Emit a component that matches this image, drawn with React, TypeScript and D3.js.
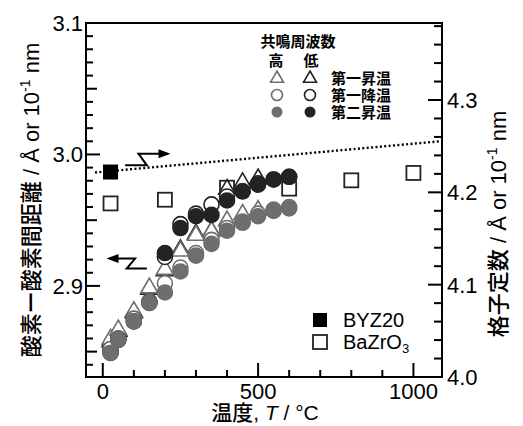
import * as d3 from 'd3'

// O-O distance (left axis), resonance frequency high (gray) / low (dark)
const tempsHeat1High = [25, 50, 100, 150, 200, 250, 300, 350, 400, 450, 500]
const heat1High = [2.860, 2.867, 2.881, 2.899, 2.913, 2.927, 2.939, 2.942, 2.950, 2.955, 2.958]
const tempsHeat1Low = [25, 50, 100, 150, 200, 250, 300, 350, 400, 450, 500]
const heat1Low = [2.858, 2.866, 2.880, 2.898, 2.912, 2.928, 2.940, 2.942, 2.974, 2.979, 2.982]

const tempsCool1High = [600, 550, 500, 450, 400, 350, 300, 250, 200, 150, 100, 50, 25]
const cool1High = [2.960, 2.958, 2.955, 2.949, 2.944, 2.935, 2.925, 2.914, 2.902, 2.888, 2.875, 2.860, 2.852]
const tempsCool1Low = [600, 550, 500, 450, 400, 350, 300, 250, 200, 150, 100, 50, 25]
const cool1Low = [2.983, 2.981, 2.978, 2.972, 2.968, 2.962, 2.955, 2.947, 2.922, 2.888, 2.875, 2.860, 2.852]

const tempsHeat2 = [25, 50, 100, 150, 200, 250, 300, 350, 400, 450, 500, 550, 600]
const heat2High = [2.849, 2.859, 2.873, 2.887, 2.895, 2.911, 2.923, 2.932, 2.942, 2.948, 2.953, 2.957, 2.959]
const heat2Low = [2.849, 2.859, 2.873, 2.887, 2.925, 2.944, 2.953, 2.954, 2.965, 2.972, 2.977, 2.981, 2.983]

// lattice constant (right axis)
const byzTemps = [25]
const byzLattice = [4.222]
const bzoTemps = [25, 200, 400, 600, 800, 1000]
const bzoLattice = [4.188, 4.192, 4.205, 4.204, 4.213, 4.221]
const fitTemps = [-25, 1092]
const fitLattice = [4.2215, 4.2555]

const xTicks = [0, 500, 1000]
const leftTicks = [2.9, 3.0, 3.1]
const rightTicks = [4.0, 4.1, 4.2, 4.3]
const legendRows = ['第一昇温', '第一降温', '第二昇温']

const GRAY = '#6e6e6e'
const DARK = '#232323'
const FONT = '"Liberation Sans", Arial, "Noto Sans CJK JP", sans-serif'
const CJK = '"Noto Sans CJK JP", "Liberation Sans", sans-serif'

const W = 523
const H = 426
const L = 86, R = 442, T = 23, B = 377

const x = d3.scaleLinear().domain([-54, 1092]).range([L, R])
const yL = d3.scaleLinear().domain([2.8307, 3.1]).range([B, T])
const yR = d3.scaleLinear().domain([4.0, 4.3834]).range([B, T])

const tri = (cx: number, cy: number, s: number) => {
  const h = s * 0.866
  return `M${cx},${cy - h * 0.62}L${cx + s / 2},${cy + h * 0.38}L${cx - s / 2},${cy + h * 0.38}Z`
}

function Triangles({ ts, vs, stroke }: { ts: number[]; vs: number[]; stroke: string }) {
  return (
    <g>
      {ts.map((t, i) => (
        <path key={i} d={tri(x(t), yL(vs[i]), 17)} fill="white" stroke={stroke} strokeWidth={1.6} />
      ))}
    </g>
  )
}

function Circles({ ts, vs, stroke, fill }: { ts: number[]; vs: number[]; stroke: string; fill: string }) {
  return (
    <g>
      {ts.map((t, i) => (
        <circle key={i} cx={x(t)} cy={yL(vs[i])} r={7.5} fill={fill} stroke={stroke} strokeWidth={1.6} />
      ))}
    </g>
  )
}

export default function App() {
  const minorX = d3.range(0, 1001, 100)
  const minorL = d3.range(2.84, 3.1001, 0.01)
  const minorR = d3.range(4.0, 4.3801, 0.02)

  const fitLine = d3.line<number>()
    .x((t) => x(t))
    .y((_, i) => yR(fitLattice[i]))(fitTemps)

  // zigzag arrows (in data units, left axis)
  const arrowRight = d3.line<[number, number]>()
    .x((d) => x(d[0])).y((d) => yL(d[1]))([[72, 2.9917], [142, 2.9917], [115, 3.0006], [205, 3.0006]])
  const arrowLeft = d3.line<[number, number]>()
    .x((d) => x(d[0])).y((d) => yL(d[1]))([[25, 2.9208], [104, 2.9208], [77, 2.9132], [142, 2.9132]])

  return (
    <svg width={W} height={H} style={{ position: 'absolute', left: 0, top: 0, background: 'white' }}>
      {/* frame */}
      <rect x={L} y={T} width={R - L} height={B - T} fill="none" stroke="black" strokeWidth={2} />

      {/* bottom ticks */}
      {minorX.map((t) => (
        <line key={t} x1={x(t)} x2={x(t)} y1={B} y2={B - (t % 500 === 0 ? 14 : 7)} stroke="black" strokeWidth={2} />
      ))}
      {xTicks.map((t) => (
        <text key={t} x={x(t)} y={399} textAnchor="middle" fontSize={22} fontFamily={FONT}>{t}</text>
      ))}

      {/* left ticks */}
      {minorL.map((v, i) => {
        const k = Math.round(v * 100)
        const len = k % 10 === 0 ? 14 : k % 5 === 0 ? 11 : 7
        return <line key={i} x1={L} x2={L + len} y1={yL(v)} y2={yL(v)} stroke="black" strokeWidth={2} />
      })}
      {leftTicks.map((v) => (
        <text key={v} x={83} y={yL(v) + 8} textAnchor="end" fontSize={22} fontFamily={FONT}>{v.toFixed(1)}</text>
      ))}

      {/* right ticks */}
      {minorR.map((v, i) => {
        const k = Math.round(v * 100)
        const len = k % 10 === 0 ? 14 : 8
        return <line key={i} x1={R} x2={R - len} y1={yR(v)} y2={yR(v)} stroke="black" strokeWidth={2} />
      })}
      {rightTicks.map((v) => (
        <text key={v} x={447} y={yR(v) + 8} textAnchor="start" fontSize={22} fontFamily={FONT}>{v.toFixed(1)}</text>
      ))}

      {/* axis titles */}
      <text x={265} y={420} textAnchor="middle" fontSize={21} fontFamily={FONT}>
        <tspan fontFamily={CJK} fontWeight="500">温度</tspan>, <tspan fontStyle="italic">T</tspan> / °C
      </text>
      <text transform="translate(39,200) rotate(-90)" textAnchor="middle" fontSize={22} fontFamily={FONT}>
        <tspan fontFamily={CJK} fontWeight="500">酸素ー酸素間距離</tspan> / Å or 10<tspan fontSize={14} dy={-9}>-1</tspan><tspan dy={9}> nm</tspan>
      </text>
      <text transform="translate(506,224) rotate(-90)" textAnchor="middle" fontSize={22} fontFamily={FONT}>
        <tspan fontFamily={CJK} fontWeight="500">格子定数</tspan> / Å or 10<tspan fontSize={14} dy={-9}>-1</tspan><tspan dy={9}> nm</tspan>
      </text>

      {/* fit line */}
      <path d={fitLine ?? ''} fill="none" stroke="black" strokeWidth={2.4} strokeDasharray="2 2.4" />

      {/* arrows */}
      <path d={arrowRight ?? ''} fill="none" stroke="black" strokeWidth={2} />
      <path d={`M${x(218)},${yL(3.0006)}l-12,-4.5v9z`} fill="black" />
      <path d={arrowLeft ?? ''} fill="none" stroke="black" strokeWidth={2} />
      <path d={`M${x(12)},${yL(2.9208)}l12,-4.5v9z`} fill="black" />

      {/* lattice squares */}
      {bzoTemps.map((t, i) => (
        <rect key={i} x={x(t) - 7} y={yR(bzoLattice[i]) - 7} width={14} height={14} fill="white" stroke={DARK} strokeWidth={1.8} />
      ))}
      {byzTemps.map((t, i) => (
        <rect key={i} x={x(t) - 7} y={yR(byzLattice[i]) - 7} width={14} height={14} fill="black" stroke="black" strokeWidth={1} />
      ))}

      {/* O-O distance markers */}
      <Triangles ts={tempsHeat1Low} vs={heat1Low} stroke={DARK} />
      <Triangles ts={tempsHeat1High} vs={heat1High} stroke={GRAY} />
      <Circles ts={tempsCool1Low} vs={cool1Low} stroke={DARK} fill="white" />
      <Circles ts={tempsCool1High} vs={cool1High} stroke={GRAY} fill="white" />
      <Circles ts={tempsHeat2} vs={heat2Low} stroke={DARK} fill={DARK} />
      <Circles ts={tempsHeat2} vs={heat2High} stroke={GRAY} fill={GRAY} />

      {/* top legend */}
      <g fontFamily={CJK} fontWeight="bold">
        <text x={298} y={47} textAnchor="middle" fontSize={15}>共鳴周波数</text>
        <text x={276} y={66} textAnchor="middle" fontSize={15}>高</text>
        <text x={311} y={66} textAnchor="middle" fontSize={15}>低</text>
        {legendRows.map((lab, i) => {
          const cy = 78 + i * 17
          return (
            <g key={lab}>
              {i === 0 && <path d={tri(277, cy, 13)} fill="white" stroke={GRAY} strokeWidth={1.6} />}
              {i === 0 && <path d={tri(310, cy, 13)} fill="white" stroke={DARK} strokeWidth={1.6} />}
              {i === 1 && <circle cx={277} cy={cy} r={5.5} fill="white" stroke={GRAY} strokeWidth={1.6} />}
              {i === 1 && <circle cx={310} cy={cy} r={5.5} fill="white" stroke={DARK} strokeWidth={1.6} />}
              {i === 2 && <circle cx={277} cy={cy} r={5.5} fill={GRAY} />}
              {i === 2 && <circle cx={310} cy={cy} r={5.5} fill={DARK} />}
              <text x={331} y={cy + 5.5} fontSize={15}>{lab}</text>
            </g>
          )
        })}
      </g>

      {/* bottom legend */}
      <rect x={313} y={313} width={14} height={14} fill="black" />
      <text x={343} y={327} fontSize={20} fontFamily={FONT}>BYZ20</text>
      <rect x={313} y={335} width={14} height={14} fill="white" stroke={DARK} strokeWidth={1.8} />
      <text x={343} y={349} fontSize={20} fontFamily={FONT}>BaZrO<tspan fontSize={13} dy={4}>3</tspan></text>
    </svg>
  )
}
